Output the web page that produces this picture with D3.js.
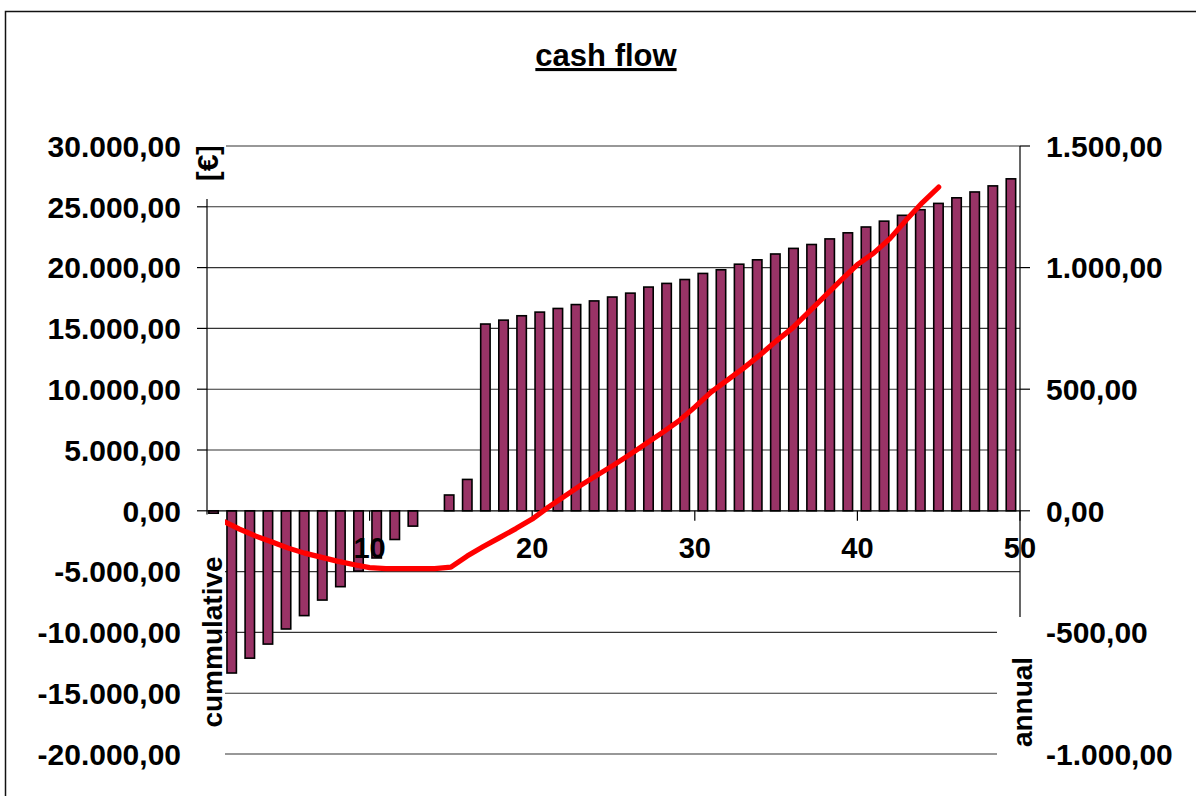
<!DOCTYPE html>
<html>
<head>
<meta charset="utf-8">
<script src="https://cdn.jsdelivr.net/npm/d3@7"></script>
<style>
  html, body { margin: 0; padding: 0; background: #fff; }
  svg { display: block; }
  text { font-family: "Liberation Sans", Arial, sans-serif; font-weight: bold; fill: #000; }
</style>
</head>
<body>
<script>
// ---------------- data ----------------
const years = d3.range(1, 46);
const annual = [-10, -667, -606, -548, -486, -431, -367, -312, -248, -194,
  -118, -63, 0, 65, 129, 768, 784, 802, 817, 832,
  848, 863, 879, 895, 920, 935, 951, 976, 991, 1014,
  1032, 1056, 1079, 1095, 1118, 1143, 1167, 1191, 1215, 1238,
  1264, 1287, 1311, 1336, 1365];
const cumulative = [-850, -1500, -2080, -2570, -3070, -3480, -3810, -4140, -4420, -4670,
  -4750, -4750, -4750, -4750, -4630, -3725, -2944, -2204, -1464, -683,
  304, 1209, 2113, 2936, 3758, 4622, 5526, 6431, 7377, 8528,
  9762, 10748, 11735, 12804, 13956, 15025, 16340, 17656, 18972, 20247,
  21192, 22385, 23906, 25345, 26620];
const leftTicks = [-20000, -15000, -10000, -5000, 0, 5000, 10000, 15000, 20000, 25000, 30000];
const rightTicks = [-1000, -500, 0, 500, 1000, 1500];
const xTicks = [10, 20, 30, 40, 50];
const title = "cash flow";
const leftTitle = "cummulative";
const rightTitle = "annual";
const unitLabel = "[€]";

// ---------------- layout ----------------
const W = 1196, H = 796;
const plotL = 207, plotR = 1020, plotT = 146, plotB = 754;

const de = d3.formatLocale({decimal: ",", thousands: ".", grouping: [3], currency: ["", "€"], minus: "-"});
const fmt = de.format(",.2f");

const yLeft = d3.scaleLinear().domain([-20000, 30000]).range([plotB, plotT]);
const yRight = d3.scaleLinear().domain([-1000, 1500]).range([plotB, plotT]);
const x = d3.scaleLinear().domain([0, 50]).range([plotL, plotR]);
const xBand = d3.scaleBand().domain(years).range([plotL - 2.5, plotR]).paddingInner(0.48).paddingOuter(0.24);

const svg = d3.select("body").append("svg").attr("width", W).attr("height", H);
svg.append("rect").attr("width", W).attr("height", H).attr("fill", "#fff");

const defs = svg.append("defs");
defs.append("clipPath").attr("id", "unitClip")
  .append("rect").attr("x", 180).attr("y", 147).attr("width", 60).attr("height", 60);

// outer border (chart area, cut at the window edge)
svg.append("path").attr("d", `M5.5,${H} V11.5 H${W}`).attr("fill", "none").attr("stroke", "#111").attr("stroke-width", 1.5);

// gridlines
svg.append("g").selectAll("line").data(leftTicks.filter(d => d !== 0)).join("line")
  .attr("x1", plotL).attr("x2", plotR)
  .attr("y1", d => yLeft(d)).attr("y2", d => yLeft(d))
  .attr("stroke", "#333").attr("stroke-width", 1.1);

// bars (annual, right axis)
svg.append("g").selectAll("rect").data(years).join("rect")
  .attr("x", d => xBand(d))
  .attr("width", xBand.bandwidth())
  .attr("y", (d, i) => yRight(Math.max(0, annual[i])))
  .attr("height", (d, i) => Math.max(Math.abs(yRight(annual[i]) - yRight(0)), annual[i] === 0 ? 0 : 1))
  .attr("fill", "#993366")
  .attr("stroke", "#000").attr("stroke-width", 1.6);

// axes
const ax = svg.append("g").attr("stroke", "#000").attr("stroke-width", 1.2);
ax.append("line").attr("x1", plotL).attr("x2", plotL).attr("y1", plotT).attr("y2", plotB);
ax.append("line").attr("x1", plotR).attr("x2", plotR).attr("y1", plotT).attr("y2", plotB);
ax.append("line").attr("x1", plotL).attr("x2", plotR).attr("y1", yLeft(0)).attr("y2", yLeft(0));
ax.selectAll(".lt").data(leftTicks).join("line").attr("class", "lt")
  .attr("x1", plotL - 10).attr("x2", plotL).attr("y1", d => yLeft(d)).attr("y2", d => yLeft(d));
ax.selectAll(".rt").data(rightTicks).join("line").attr("class", "rt")
  .attr("x1", plotR).attr("x2", plotR + 10).attr("y1", d => yRight(d)).attr("y2", d => yRight(d));
ax.selectAll(".xt").data(xTicks).join("line").attr("class", "xt")
  .attr("x1", d => x(d)).attr("x2", d => x(d)).attr("y1", yLeft(0)).attr("y2", yLeft(0) + 10);

// cumulative line (left axis)
const line = d3.line().x((d, i) => x(years[i])).y(d => yLeft(d));
svg.append("path").datum(cumulative).attr("d", line)
  .attr("fill", "none").attr("stroke", "#ff0000").attr("stroke-width", 5.2)
  .attr("stroke-linejoin", "round").attr("stroke-linecap", "round");

// white label boxes (axis titles sit on top of the axes)
svg.append("rect").attr("x", 188).attr("y", 137).attr("width", 38).attr("height", 62).attr("fill", "#fff");
svg.append("rect").attr("x", 188).attr("y", 514.5).attr("width", 37).attr("height", 290).attr("fill", "#fff");
svg.append("rect").attr("x", 997).attr("y", 617).attr("width", 44).attr("height", 190).attr("fill", "#fff");

// texts
svg.append("text").attr("x", 606).attr("y", 66).attr("text-anchor", "middle")
  .style("font-size", "31px").style("text-decoration", "underline").text(title);

svg.append("g").selectAll("text").data(leftTicks).join("text")
  .attr("x", 181).attr("y", d => yLeft(d)).attr("dy", "0.36em").attr("text-anchor", "end")
  .style("font-size", "30px").text(d => fmt(d));

svg.append("g").selectAll("text").data(rightTicks).join("text")
  .attr("x", 1046).attr("y", d => yRight(d)).attr("dy", "0.36em").attr("text-anchor", "start")
  .style("font-size", "30px").text(d => fmt(d));

svg.append("g").selectAll("text").data(xTicks).join("text")
  .attr("x", d => x(d)).attr("y", yLeft(0) + 47).attr("text-anchor", "middle")
  .style("font-size", "29px").text(d => d);

svg.append("text").attr("transform", "translate(221.5,642) rotate(-90)").attr("text-anchor", "middle")
  .style("font-size", "28px").text(leftTitle);
svg.append("text").attr("transform", "translate(1031.5,702) rotate(-90)").attr("text-anchor", "middle")
  .style("font-size", "28px").text(rightTitle);
svg.append("g").attr("clip-path", "url(#unitClip)")
  .append("text").attr("transform", "translate(218,163) rotate(-90)").attr("text-anchor", "middle")
  .style("font-size", "30px").text(unitLabel);
</script>
</body>
</html>
